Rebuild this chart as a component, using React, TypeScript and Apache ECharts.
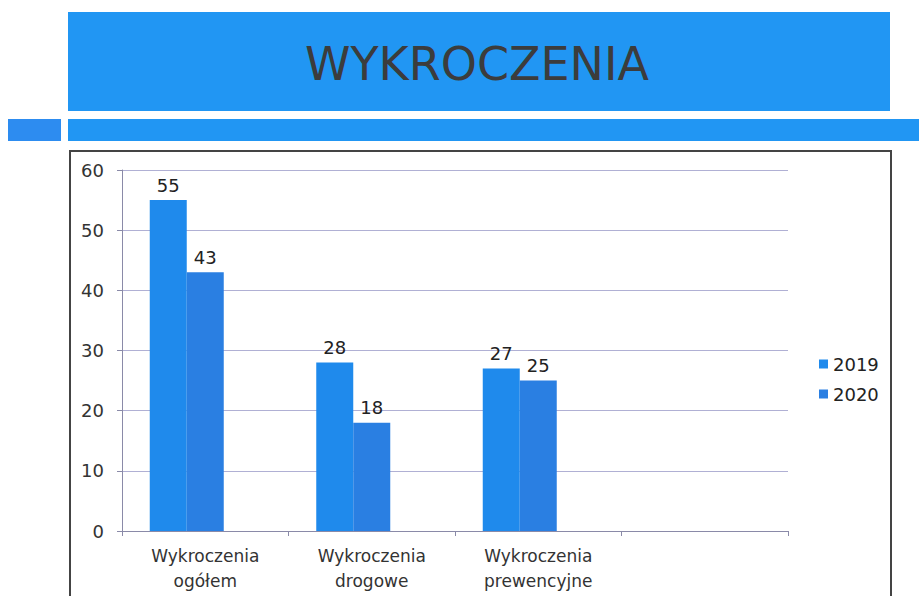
import React, { useEffect, useRef } from "react";
import * as echarts from "echarts";

const categories = ["Wykroczenia\nogółem", "Wykroczenia\ndrogowe", "Wykroczenia\nprewencyjne", ""];
const values2019 = [55, 28, 27, null];
const values2020 = [43, 18, 25, null];
const spacerSeries = [null, null, null, null];
const yTicks = { min: 0, max: 60, interval: 10 };
const titleText = "WYKROCZENIA";

const FONT = "'DejaVu Sans', 'Open Sans', sans-serif";

export default function App() {
  const ref = useRef<HTMLDivElement>(null);
  useEffect(() => {
    if (!ref.current) return;
    const chart = echarts.init(ref.current, undefined, { renderer: "svg" });
    const label = {
      show: true,
      position: "top",
      distance: 6,
      color: "#222",
      fontSize: 18,
      fontFamily: FONT,
    };
    chart.setOption({
      animation: false,
      backgroundColor: "#ffffff",
      textStyle: { fontFamily: FONT },
      graphic: [
        { type: "rect", shape: { x: 68, y: 12, width: 822, height: 99 }, style: { fill: "#2196f3" }, z: 0 },
        { type: "rect", shape: { x: 8, y: 119, width: 53, height: 22 }, style: { fill: "#2d8cf0" }, z: 0 },
        { type: "rect", shape: { x: 68, y: 119, width: 851, height: 22 }, style: { fill: "#2196f3" }, z: 0 },
        { type: "rect", shape: { x: 70, y: 151, width: 821, height: 460 }, style: { fill: "none", stroke: "#444", lineWidth: 2 }, z: 0 },
        {
          type: "text",
          x: 477,
          y: 64,
          style: {
            text: titleText,
            fill: "#3c3c3c",
            font: `normal 46px ${FONT}`,
            align: "center",
            verticalAlign: "middle",
          },
          z: 1,
        },
      ],
      grid: { left: 122, top: 170, width: 666, height: 361, containLabel: false },
      legend: {
        data: ["2019", "2020"],
        orient: "vertical",
        left: 814,
        top: 350,
        itemWidth: 9,
        itemHeight: 9,
        itemGap: 12,
        icon: "rect",
        textStyle: { fontSize: 18, color: "#222", fontFamily: FONT },
      },
      xAxis: {
        type: "category",
        data: categories,
        axisLine: { show: true, lineStyle: { color: "#8a8aa8", width: 1 } },
        axisTick: { show: true, length: 5, lineStyle: { color: "#8a8aa8" } },
        axisLabel: { interval: 0, fontSize: 17, color: "#333", lineHeight: 25, margin: 12, fontFamily: FONT },
        splitLine: { show: false },
      },
      yAxis: {
        type: "value",
        min: yTicks.min,
        max: yTicks.max,
        interval: yTicks.interval,
        axisLine: { show: true, lineStyle: { color: "#8a8aa8", width: 1 } },
        axisTick: { show: true, length: 5, lineStyle: { color: "#8a8aa8" } },
        axisLabel: { fontSize: 18, color: "#333", margin: 18, fontFamily: FONT },
        splitLine: { show: true, lineStyle: { color: "#b0b0d4", width: 1 } },
      },
      series: [
        { name: "2019", type: "bar", data: values2019, barWidth: 37, barGap: "0%", itemStyle: { color: "#1f8aec" }, label },
        { name: "2020", type: "bar", data: values2020, barWidth: 37, barGap: "0%", itemStyle: { color: "#2a7fe2" }, label },
        { name: "spacer", type: "bar", data: spacerSeries, barWidth: 37, barGap: "0%", itemStyle: { color: "#5aa0e8" } },
      ],
    });
    return () => chart.dispose();
  }, []);
  return (
    <div
      ref={ref}
      style={{ position: "fixed", left: 0, top: 0, width: 919, height: 596, background: "#fff" }}
    />
  );
}
